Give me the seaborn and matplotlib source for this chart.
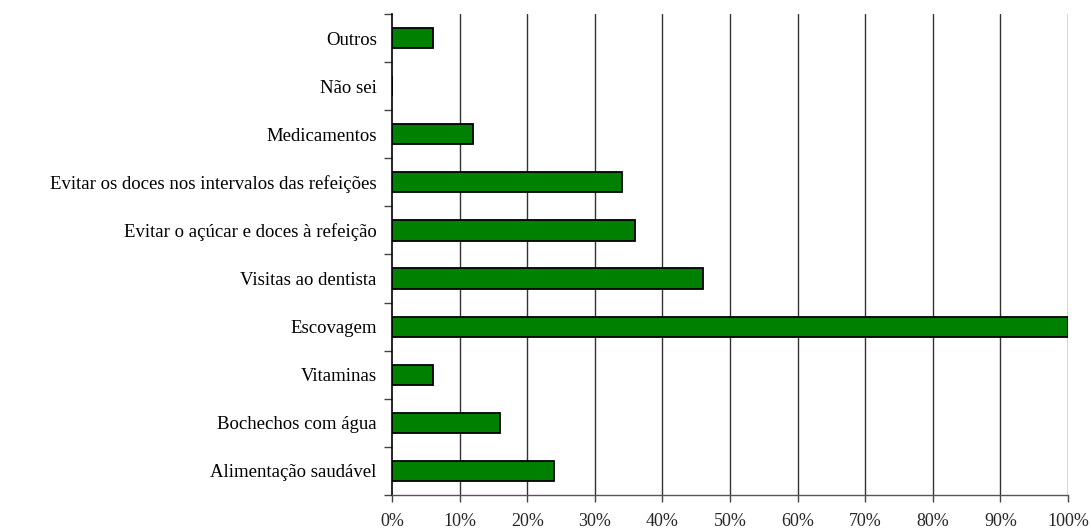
import matplotlib
matplotlib.use("Agg")
import matplotlib.pyplot as plt
import seaborn as sns
import pandas as pd
import numpy as np
from matplotlib.ticker import FixedLocator, PercentFormatter

categories = [
    "Outros",
    "Não sei",
    "Medicamentos",
    "Evitar os doces nos intervalos das refeições",
    "Evitar o açúcar e doces à refeição",
    "Visitas ao dentista",
    "Escovagem",
    "Vitaminas",
    "Bochechos com água",
    "Alimentação saudável",
]
values = [6, 0, 12, 34, 36, 46, 100, 6, 16, 24]
x_ticks = [0, 10, 20, 30, 40, 50, 60, 70, 80, 90, 100]

df = pd.DataFrame({"categoria": categories, "valor": values})

sns.set_style("white")
plt.rcParams["font.family"] = ["Liberation Serif", "DejaVu Serif"]

fig = plt.figure(figsize=(10.91, 5.32), dpi=100)
ax = fig.add_axes([392 / 1091, 1 - 495 / 532, (1068 - 392) / 1091, (495 - 14) / 532])

sns.barplot(data=df, y="categoria", x="valor", order=categories, orient="h",
            color="#008000", saturation=1, width=0.42, edgecolor="black",
            linewidth=1.3, ax=ax, zorder=3)

ax.set_xlim(0, 100)
ax.set_ylim(len(categories) - 0.5, -0.5)
ax.set_xticks(x_ticks)
ax.xaxis.set_major_formatter(PercentFormatter(decimals=0))
ax.set_xlabel("")
ax.set_ylabel("")

ax.grid(False)
for xv in x_ticks[1:]:
    ax.axvline(xv, color="#333333", lw=1.0, zorder=1)

ax.yaxis.set_minor_locator(FixedLocator(np.arange(-0.5, len(categories), 1.0)))
ax.tick_params(axis="y", which="major", length=0, pad=11, labelsize=13.5, colors="black")
ax.tick_params(axis="y", which="minor", length=6, width=1, color="#444444", left=True)
ax.tick_params(axis="x", which="major", length=5, width=1, color="#444444", pad=8,
               labelsize=13, bottom=True)

for side in ["top", "right"]:
    ax.spines[side].set_visible(False)
ax.spines["left"].set_color("black")
ax.spines["left"].set_linewidth(1.2)
ax.spines["bottom"].set_color("#555555")
ax.spines["bottom"].set_linewidth(1.0)

fig.savefig("out.png", dpi=100)
